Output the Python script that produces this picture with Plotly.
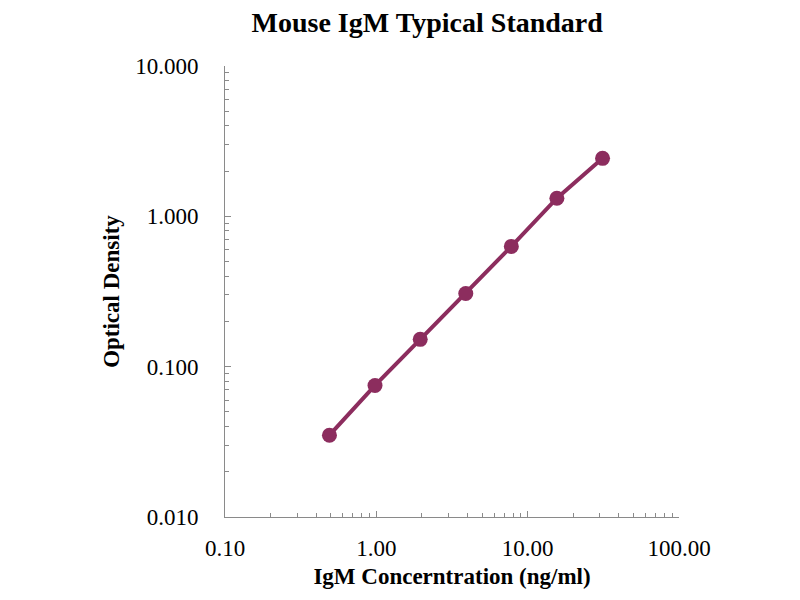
import plotly.graph_objects as go

# standard curve data
conc = [0.49, 0.98, 1.95, 3.9, 7.8, 15.6, 31.25]
od = [0.035, 0.075, 0.152, 0.307, 0.631, 1.32, 2.43]

x_ticks = [0.1, 1, 10, 100]
y_ticks = [0.01, 0.1, 1, 10]

serif = "Liberation Serif, Times New Roman, serif"
col = "#8c2d5e"
axcol = "#8a8a8a"

fig = go.Figure()
fig.add_trace(go.Scatter(
    x=conc, y=od, mode="lines+markers",
    line=dict(color=col, width=4),
    marker=dict(color=col, size=15),
    showlegend=False,
))

fig.update_layout(
    width=800, height=600,
    paper_bgcolor="white", plot_bgcolor="white",
    margin=dict(l=217, r=129, t=58, b=91),
    font=dict(family=serif, color="black", size=23),
    title=dict(text="<b>Mouse IgM Typical Standard</b>", x=0.524, xanchor="center",
               y=0.976, yanchor="middle", font=dict(size=28, family=serif)),
)

fig.update_xaxes(
    type="log", range=[-1, 2],
    tickvals=x_ticks, tickformat=".2f",
    showline=True, linecolor=axcol, linewidth=1,
    ticks="inside", ticklen=6, tickcolor=axcol,
    minor=dict(ticks="inside", ticklen=4, tickcolor=axcol, dtick="D1", showgrid=False),
    showgrid=False, zeroline=False,
    ticklabelstandoff=10,
    title=dict(text="<b>IgM Concerntration (ng/ml)</b>", font=dict(size=23), standoff=8),
)
fig.update_yaxes(
    type="log", range=[-2, 1],
    tickvals=y_ticks, tickformat=".3f",
    showline=True, linecolor=axcol, linewidth=1,
    ticks="inside", ticklen=6, tickcolor=axcol,
    minor=dict(ticks="inside", ticklen=4, tickcolor=axcol, dtick="D1", showgrid=False),
    showgrid=False, zeroline=False,
    ticklabelstandoff=21,
    title=dict(text="<b>Optical Density</b>", font=dict(size=23), standoff=9),
)

fig.write_html("out.html")
